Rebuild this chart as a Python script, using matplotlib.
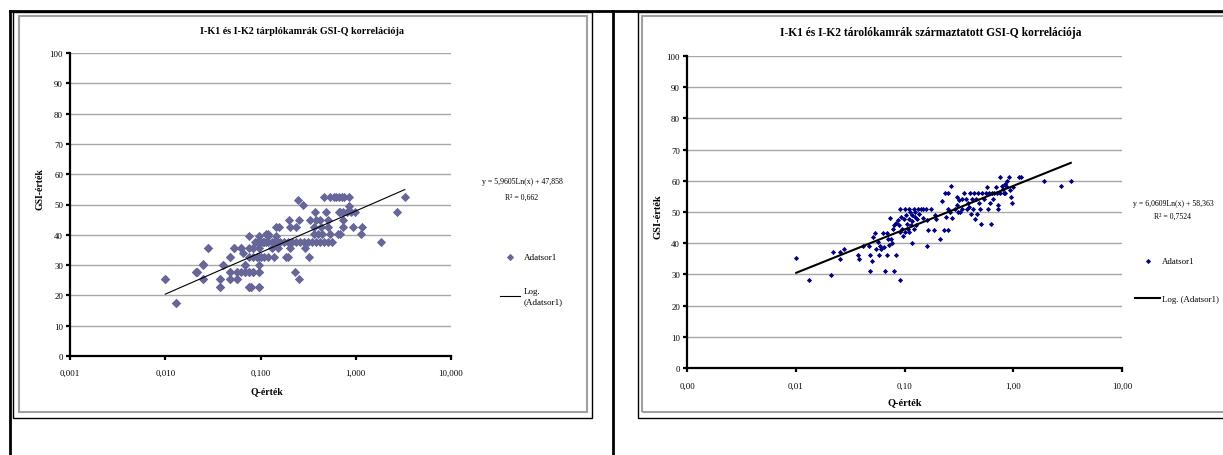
import numpy as np
import matplotlib
matplotlib.use("Agg")
import matplotlib.pyplot as plt
from matplotlib.patches import Rectangle
from matplotlib.lines import Line2D
from matplotlib.ticker import FixedLocator, NullLocator

plt.rcParams['font.family'] = ['Liberation Serif', 'DejaVu Serif']

# ---- left chart data (Q, GSI) ----
q_left = [0.010, 0.0131, 0.0211, 0.0217, 0.0248, 0.0248, 0.0281, 0.0374, 0.0374, 0.0404,
          0.0484, 0.0484, 0.0484, 0.0522, 0.0564, 0.0564, 0.0621, 0.0650, 0.0683, 0.0683,
          0.0751, 0.0826, 0.0953, 0.0751, 0.0788, 0.0953, 0.0766, 0.0870, 0.0826, 0.0910,
          0.0910, 0.0953, 0.100, 0.105, 0.110, 0.115, 0.121, 0.133, 0.140, 0.147,
          0.154, 0.161, 0.177, 0.195, 0.215, 0.236, 0.260, 0.286, 0.315, 0.346,
          0.381, 0.419, 0.461, 0.507, 0.558, 1.84, 0.0766, 0.0953, 0.121, 0.147,
          0.0281, 0.0522, 0.0621, 0.0826, 0.0953, 0.133, 0.154, 0.205, 0.294, 0.0484,
          0.0751, 0.0826, 0.0910, 0.0953, 0.100, 0.110, 0.121, 0.140, 0.186, 0.195,
          0.324, 0.0248, 0.0404, 0.0683, 0.0953, 0.0211, 0.0217, 0.0484, 0.0564, 0.0621,
          0.0683, 0.0751, 0.0826, 0.0953, 0.232, 0.010, 0.0248, 0.0374, 0.0484, 0.0564,
          0.252, 0.0374, 0.0751, 0.0788, 0.0953, 0.0131, 0.115, 0.121, 0.363, 0.400,
          0.440, 0.532, 0.644, 0.689, 1.14, 0.147, 0.158, 0.205, 0.236, 0.363,
          0.427, 0.507, 0.729, 0.927, 1.16, 0.201, 0.255, 0.330, 0.381, 0.419,
          0.507, 0.743, 0.370, 0.484, 0.663, 0.689, 0.743, 0.803, 0.900, 0.972,
          2.70, 0.281, 0.859, 0.248, 0.461, 0.532, 0.586, 0.614, 0.663, 0.709,
          0.758, 0.859, 3.27]
gsi_left = [25.5, 17.6, 27.7, 27.7, 30.5, 25.5, 35.5, 25.5, 22.7, 30.0,
            32.7, 27.7, 25.5, 35.5, 27.7, 25.5, 35.5, 34.0, 30.0, 27.7,
            27.7, 27.7, 27.7, 22.7, 22.7, 22.7, 39.6, 37.6, 35.5, 32.7,
            37.6, 37.6, 37.6, 37.6, 37.6, 37.6, 37.6, 37.6, 37.6, 37.6,
            37.6, 37.6, 37.6, 37.6, 37.6, 37.6, 37.6, 37.6, 37.6, 37.6,
            37.6, 37.6, 37.6, 37.6, 37.6, 37.6, 35.5, 39.6, 39.6, 39.6,
            35.5, 35.5, 35.5, 35.5, 35.5, 35.5, 35.5, 35.5, 35.5, 32.7,
            32.7, 32.7, 32.7, 32.7, 32.7, 32.7, 32.7, 32.7, 32.7, 32.7,
            32.7, 30.0, 30.0, 30.0, 30.0, 27.7, 27.7, 27.7, 27.7, 27.7,
            27.7, 27.7, 27.7, 27.7, 27.7, 25.5, 25.5, 25.5, 25.5, 25.5,
            25.5, 22.7, 22.7, 22.7, 22.7, 17.6, 40.4, 40.4, 40.4, 40.4,
            40.4, 40.4, 40.4, 40.4, 40.4, 42.6, 42.6, 42.6, 42.6, 42.6,
            42.6, 42.6, 42.6, 42.6, 42.6, 44.8, 44.8, 44.8, 44.8, 44.8,
            44.8, 44.8, 47.5, 47.5, 47.5, 47.5, 47.5, 47.5, 47.5, 47.5,
            47.5, 49.7, 49.5, 51.4, 52.5, 52.5, 52.5, 52.5, 52.5, 52.5,
            52.5, 52.5, 52.5]

# ---- right chart data (Q, GSI) ----
q_right = [0.0101, 0.0131, 0.0212, 0.0221, 0.0253, 0.0253, 0.0279, 0.0370, 0.0383, 0.0412,
           0.0474, 0.0482, 0.0482, 0.0507, 0.0515, 0.0533, 0.0551, 0.0569, 0.0579, 0.0598,
           0.0613, 0.0634, 0.0650, 0.0667, 0.0684, 0.0684, 0.0706, 0.0718, 0.0743, 0.0755,
           0.0767, 0.0793, 0.0833, 0.0906, 0.0913,
           0.0780, 0.0799, 0.0833, 0.0868, 0.0891, 0.0906, 0.0928, 0.0944, 0.0968, 0.0984,
           0.100, 0.101, 0.103, 0.105, 0.107, 0.109, 0.110, 0.111, 0.112, 0.114,
           0.116, 0.116, 0.118, 0.121, 0.122, 0.124, 0.126, 0.128, 0.131, 0.134,
           0.137, 0.143, 0.149, 0.149, 0.159, 0.162, 0.164, 0.176, 0.185, 0.191,
           0.194, 0.162, 0.212, 0.220, 0.229, 0.235, 0.241, 0.249, 0.253, 0.261,
           0.272, 0.266, 0.253,
           0.289, 0.301, 0.308, 0.301, 0.314, 0.327, 0.335, 0.341, 0.355, 0.370,
           0.376, 0.386, 0.395, 0.402, 0.409, 0.419, 0.430, 0.437, 0.444, 0.455,
           0.467, 0.474, 0.486, 0.494, 0.503, 0.515, 0.537, 0.560, 0.569, 0.583,
           0.598, 0.608, 0.624, 0.634, 0.650, 0.661, 0.689, 0.706, 0.718, 0.730,
           0.748, 0.760, 0.780, 0.800, 0.820, 0.834, 0.848, 0.861, 0.883, 0.921,
           0.936, 0.959, 0.984, 1.00, 1.13, 1.18, 1.91, 2.77, 3.38]
gsi_right = [35.3, 28.1, 29.9, 37.2, 37.2, 35.0, 38.2, 36.1, 35.0, 39.0,
             39.0, 36.1, 31.1, 34.2, 42.0, 43.3, 38.0, 40.4, 36.1, 39.0,
             38.0, 43.3, 38.8, 31.1, 36.1, 43.3, 41.5, 39.3, 48.1, 41.5,
             40.2, 31.1, 36.1, 28.1, 51.1,
             44.7, 45.7, 46.6, 47.5, 45.7, 43.6, 48.4, 44.7, 42.3, 47.9,
             51.1, 43.6, 49.1, 46.2, 44.7, 43.6, 51.1, 47.9, 50.0, 45.7,
             48.9, 40.2, 47.0, 51.1, 44.7, 48.4, 50.0, 45.7, 47.9, 51.1,
             49.5, 51.1, 48.2, 51.1, 51.1, 47.3, 44.3, 51.1, 44.3, 48.9,
             47.9, 39.0, 41.2, 53.4, 44.3, 56.1, 48.4, 56.1, 51.1, 50.0,
             48.2, 58.2, 44.3,
             51.1, 52.1, 50.0, 54.8, 53.9, 50.0, 51.1, 54.3, 56.1, 54.3,
             51.1, 53.0, 51.6, 56.1, 49.5, 54.3, 51.1, 56.1, 47.9, 54.3,
             49.5, 56.1, 53.0, 51.1, 46.2, 56.1, 54.3, 56.1, 58.0, 51.1,
             56.1, 53.0, 46.2, 56.1, 54.3, 56.1, 58.0, 56.1, 52.1, 51.0,
             56.1, 61.2, 58.2, 57.5, 56.1, 59.1, 56.1, 58.2, 59.8, 61.2,
             56.9, 54.8, 53.0, 58.0, 61.2, 61.2, 60.0, 58.2, 60.0]

# logarithmic trend line coefficients (from Excel)
trend_left = (5.9605, 47.858)
trend_right = (6.0609, 58.363)

xticks = [0.001, 0.01, 0.1, 1, 10]
xlabels_left = ['0,001', '0,010', '0,100', '1,000', '10,000']
xlabels_right = ['0,00', '0,01', '0,10', '1,00', '10,00']
yticks = list(range(0, 101, 10))

W, H = 1223, 456
fig = plt.figure(figsize=(W / 100, H / 100), dpi=100)


def fx(px):
    return px / W


def fy(py):
    return 1 - py / H


# table lines and chart frames
for seg in [((10, 1223), (12, 12)), ((10, 10), (12, 456)), ((613, 613), (12, 456))]:
    fig.add_artist(Line2D([fx(v) for v in seg[0]], [fy(v) for v in seg[1]],
                          color='black', lw=2, transform=fig.transFigure))
fig.add_artist(Rectangle((fx(13), fy(419)), fx(592) - fx(13), fy(13) - fy(419),
                         fill=False, ec='black', lw=1, transform=fig.transFigure))
fig.add_artist(Rectangle((fx(19), fy(413)), fx(587) - fx(19), fy(17) - fy(413),
                         fill=False, ec='#a0a0a0', lw=1.5, transform=fig.transFigure))
fig.add_artist(Rectangle((fx(638), fy(419)), fx(1240) - fx(638), fy(13) - fy(419),
                         fill=False, ec='black', lw=1, transform=fig.transFigure))
fig.add_artist(Rectangle((fx(642), fy(413)), fx(1235) - fx(642), fy(17) - fy(413),
                         fill=False, ec='#a0a0a0', lw=1.5, transform=fig.transFigure))


def setup(ax, xlabels):
    ax.set_xscale('log')
    ax.set_xlim(0.001, 10)
    ax.set_ylim(0, 100)
    ax.xaxis.set_major_locator(FixedLocator(xticks))
    ax.xaxis.set_minor_locator(NullLocator())
    ax.set_xticklabels(xlabels)
    ax.set_yticks(yticks)
    ax.grid(axis='y', color='#a8a8a8', lw=1)
    ax.set_axisbelow(True)
    for s in ['top', 'right']:
        ax.spines[s].set_visible(False)
    for s in ['left', 'bottom']:
        ax.spines[s].set_linewidth(1.6)
    ax.tick_params(axis='both', direction='out', length=3, width=1.6, labelsize=6.3)
    ax.tick_params(axis='x', pad=6)
    ax.tick_params(axis='y', pad=2)


# ---- left chart ----
ax1 = fig.add_axes([fx(70), fy(357), fx(451) - fx(70), fy(54) - fy(357)])
setup(ax1, xlabels_left)
ax1.scatter(q_left, gsi_left, marker='D', s=22, color='#666699', lw=0, label='Adatsor1', zorder=3)
xt = np.geomspace(min(q_left), max(q_left), 50)
ax1.plot(xt, trend_left[0] * np.log(xt) + trend_left[1], color='black', lw=0.8,
         label='Log.\n(Adatsor1)', zorder=4)
ax1.set_xlabel('Q-érték', fontsize=7, fontweight='bold')
ax1.set_ylabel('GSI-érték', fontsize=7, fontweight='bold')
ax1.xaxis.set_label_coords(0.517, -0.10)
ax1.yaxis.set_label_coords(-0.066, 0.555)
fig.text(fx(302), fy(32), 'I-K1 és I-K2 tárplókamrák GSI-Q korrelációja',
         ha='center', va='center', fontsize=7.3, fontweight='bold')
fig.text(fx(522), fy(182), 'y = 5,9605Ln(x) + 47,858', ha='center', va='center', fontsize=5.6)
fig.text(fx(522), fy(198), 'R² = 0,662', ha='center', va='center', fontsize=5.6)
ax1.legend(loc='upper left', bbox_to_anchor=(fx(500), fy(254)), bbox_transform=fig.transFigure,
           frameon=False, fontsize=6.5, handlelength=2.2, handletextpad=0.4,
           labelspacing=2.9, borderpad=0, borderaxespad=0, markerscale=0.8)

# ---- right chart ----
ax2 = fig.add_axes([fx(687), fy(369), fx(1122) - fx(687), fy(57) - fy(369)])
setup(ax2, xlabels_right)
ax2.scatter(q_right, gsi_right, marker='D', s=7, color='#000080', lw=0, label='Adatsor1', zorder=3)
xt2 = np.geomspace(min(q_right), max(q_right), 50)
ax2.plot(xt2, trend_right[0] * np.log(xt2) + trend_right[1], color='black', lw=1.5,
         label='Log. (Adatsor1)', zorder=4)
ax2.tick_params(axis='x', pad=7)
ax2.set_xlabel('Q-érték', fontsize=7.5, fontweight='bold')
ax2.set_ylabel('GSI-érték', fontsize=7.5, fontweight='bold')
ax2.xaxis.set_label_coords(0.501, -0.092)
ax2.yaxis.set_label_coords(-0.057, 0.487)
fig.text(fx(931), fy(33), 'I-K1 és I-K2 tárolókamrák származtatott GSI-Q korrelációja',
         ha='center', va='center', fontsize=8.3, fontweight='bold')
fig.text(fx(1133), fy(204), 'y = 6,0609Ln(x) + 58,363', ha='left', va='center', fontsize=5.6)
fig.text(fx(1173), fy(217), 'R² = 0,7524', ha='center', va='center', fontsize=5.6)
ax2.legend(loc='upper left', bbox_to_anchor=(fx(1135), fy(258)), bbox_transform=fig.transFigure,
           frameon=False, fontsize=6.3, handlelength=2.9, handletextpad=0.2,
           labelspacing=3.4, borderpad=0, borderaxespad=0, markerscale=1.0)

fig.savefig('out.png', dpi=100)
